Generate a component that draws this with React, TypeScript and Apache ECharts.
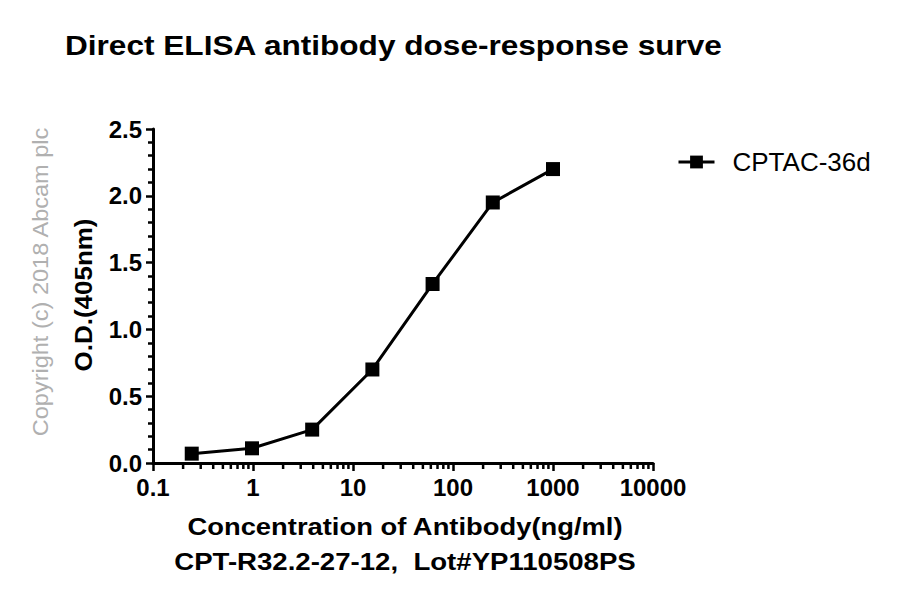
import React, { useEffect, useRef } from "react";
import * as echarts from "echarts";

const seriesName = "CPTAC-36d";
const concentrations = [0.244, 0.977, 3.906, 15.625, 62.5, 250, 1000];
const odValues = [0.07, 0.11, 0.25, 0.7, 1.34, 1.95, 2.2];
const xMinorTicks = [
  0.2, 0.3, 0.4, 0.5, 0.6, 0.7, 0.8, 0.9,
  2, 3, 4, 5, 6, 7, 8, 9,
  20, 30, 40, 50, 60, 70, 80, 90,
  200, 300, 400, 500, 600, 700, 800, 900,
  2000, 3000, 4000, 5000, 6000, 7000, 8000, 9000,
];
const titleText = "Direct ELISA antibody dose-response surve";
const xName = "Concentration of Antibody(ng/ml)";
const xSubName = "CPT-R32.2-27-12,  Lot#YP110508PS";
const yName = "O.D.(405nm)";
const copyright = "Copyright (c) 2018 Abcam plc";

const FONT = "Liberation Sans, Arial, sans-serif";

export default function App() {
  const ref = useRef<HTMLDivElement>(null);
  useEffect(() => {
    document.body.style.margin = "0";
    const chart = echarts.init(ref.current!, undefined, { renderer: "svg" });
    chart.setOption({
      animation: false,
      backgroundColor: "#fff",
      legend: {
        data: [seriesName],
        left: 672,
        top: 144,
        itemWidth: 36,
        itemHeight: 16,
        lineStyle: { width: 3, color: "#000" },
        itemStyle: { color: "#000" },
        textStyle: { fontFamily: FONT, fontSize: 26, color: "#000", padding: [0, 0, 0, 13] },
      },
      grid: { left: 153, right: 250, top: 129, bottom: 137, containLabel: false },
      xAxis: {
        type: "log",
        logBase: 10,
        min: 0.1,
        max: 10000,
        axisLine: { lineStyle: { color: "#000", width: 3 } },
        axisTick: { length: 8, lineStyle: { color: "#000", width: 2.5 } },
        axisLabel: {
          fontFamily: FONT, fontWeight: "bold", fontSize: 24, color: "#000", margin: 12,
          formatter: (v: number) => String(+v.toPrecision(6)),
        },
        splitLine: { show: false },
      },
      yAxis: {
        type: "value",
        min: 0,
        max: 2.5,
        interval: 0.5,
        axisLine: { show: true, onZero: false, lineStyle: { color: "#000", width: 3 } },
        axisTick: { show: true, length: 7, lineStyle: { color: "#000", width: 2.5 } },
        minorTick: { show: true, splitNumber: 5, length: 5, lineStyle: { color: "#000", width: 2.5 } },
        axisLabel: {
          fontFamily: FONT, fontWeight: "bold", fontSize: 24, color: "#000", margin: 11,
          formatter: (v: number) => v.toFixed(1),
        },
        splitLine: { show: false },
        minorSplitLine: { show: false },
      },
      graphic: [
        {
          type: "text",
          x: 65,
          y: 45,
          scaleX: 1.17,
          style: {
            text: titleText,
            font: "bold 27px " + FONT,
            fill: "#000",
            align: "left",
            verticalAlign: "middle",
          },
        },
        {
          type: "text",
          x: 405,
          y: 527,
          scaleX: 1.19,
          style: {
            text: xName,
            font: "bold 23px " + FONT,
            fill: "#000",
            align: "center",
            verticalAlign: "middle",
          },
        },
        {
          type: "text",
          x: 405,
          y: 562,
          scaleX: 1.2,
          style: {
            text: xSubName,
            font: "bold 23px " + FONT,
            fill: "#000",
            align: "center",
            verticalAlign: "middle",
          },
        },
        {
          type: "text",
          x: 84,
          y: 295,
          rotation: Math.PI / 2,
          scaleX: 1.13,
          style: {
            text: yName,
            font: "bold 23px " + FONT,
            fill: "#000",
            align: "center",
            verticalAlign: "middle",
          },
        },
        {
          type: "text",
          x: 40,
          y: 282,
          rotation: Math.PI / 2,
          scaleX: 1.07,
          style: {
            text: copyright,
            font: "22px " + FONT,
            fill: "#b0b0b0",
            align: "center",
            verticalAlign: "middle",
          },
        },
      ],
      series: [
        {
          name: seriesName,
          type: "line",
          data: concentrations.map((c, i) => [c, odValues[i]]),
          symbol: "rect",
          symbolSize: 14,
          itemStyle: { color: "#000" },
          lineStyle: { color: "#000", width: 3 },
        },
        {
          name: "minorTicks",
          type: "custom",
          silent: true,
          clip: false,
          data: xMinorTicks.map((v) => [v, 0]),
          renderItem: (params: any, api: any) => {
            const p = api.coord([api.value(0), 0]);
            return {
              type: "line",
              shape: { x1: p[0], y1: p[1], x2: p[0], y2: p[1] + 6 },
              style: { stroke: "#000", lineWidth: 2.5 },
            };
          },
        },
      ],
    });
    return () => chart.dispose();
  }, []);
  return <div ref={ref} style={{ width: 903, height: 600 }} />;
}
